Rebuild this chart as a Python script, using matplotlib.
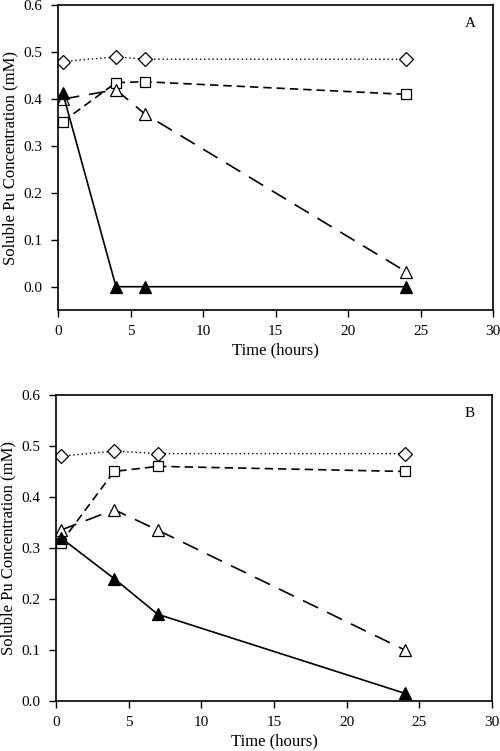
import matplotlib.pyplot as plt

plt.rcParams["font.family"] = ["Liberation Serif", "DejaVu Serif"]
plt.rcParams["font.size"] = 11

# panel A
time_a = [0.33, 4, 6, 24]
diamond_a = [0.48, 0.49, 0.485, 0.485]
square_a = [0.352, 0.435, 0.437, 0.41]
open_tri_a = [0.40, 0.42, 0.368, 0.032]
filled_tri_a = [0.413, 0.0, 0.0, 0.0]

# panel B
time_b = [0.33, 4, 7, 24]
diamond_b = [0.48, 0.49, 0.485, 0.485]
square_b = [0.31, 0.45, 0.46, 0.45]
open_tri_b = [0.335, 0.375, 0.335, 0.10]
filled_tri_b = [0.32, 0.24, 0.17, 0.015]

xticks = [0, 5, 10, 15, 20, 25, 30]
yticks = [0.0, 0.1, 0.2, 0.3, 0.4, 0.5, 0.6]


def draw_panel(ax, t, dia, sq, otri, ftri, label, ylow):
    ax.plot(t, dia, color="black", lw=1, ls=(0, (1, 2)), marker="D",
            ms=7.5, mfc="white", mec="black", mew=0.9)
    ax.plot(t, sq, color="black", lw=1.2, ls=(0, (5, 3)), marker="s",
            ms=7.5, mfc="white", mec="black", mew=0.9)
    ax.plot(t, otri, color="black", lw=1.2, ls=(0, (10, 6)), marker="^",
            ms=8, mfc="white", mec="black", mew=0.9)
    ax.plot(t, ftri, color="black", lw=1.2, ls="-", marker="^",
            ms=8, mfc="black", mec="black", mew=0.9)
    ax.set_xlim(0, 30)
    ax.set_ylim(ylow, 0.6)
    ax.set_xticks(xticks)
    ax.set_yticks(yticks)
    ax.set_yticklabels([f"{v:.1f}" for v in yticks])
    ax.tick_params(direction="out", length=5, width=1, pad=6,
                   top=False, right=False, labelsize=11)
    for s in ax.spines.values():
        s.set_linewidth(1.2)
    ax.set_xlabel("Time (hours)", fontsize=12, labelpad=3)
    ax.set_ylabel("Soluble Pu Concentration (mM)", fontsize=12, labelpad=4)
    ax.text(0.96, 0.94, label, transform=ax.transAxes, fontsize=11,
            ha="right", va="center")


fig = plt.figure(figsize=(5, 7.51), dpi=100)
ax_a = fig.add_axes([0.116, 0.587, 0.870, 0.406])
ax_b = fig.add_axes([0.112, 0.0666, 0.872, 0.4075])
draw_panel(ax_a, time_a, diamond_a, square_a, open_tri_a, filled_tri_a, "A", -0.05)
draw_panel(ax_b, time_b, diamond_b, square_b, open_tri_b, filled_tri_b, "B", 0.0)

fig.savefig("out.png", dpi=100)
